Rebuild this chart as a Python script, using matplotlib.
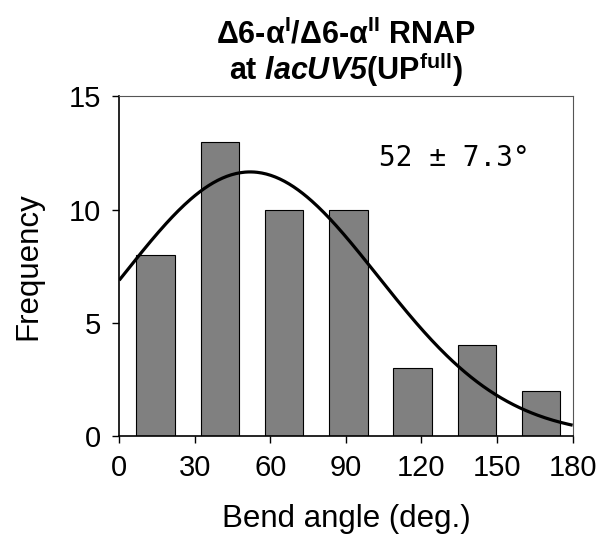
import numpy as np
import matplotlib
matplotlib.use('Agg')
import matplotlib.pyplot as plt

plt.rcParams['font.family'] = ['Liberation Sans', 'DejaVu Sans']
plt.rcParams['mathtext.fontset'] = 'custom'
plt.rcParams['mathtext.rm'] = 'Liberation Sans:bold'
plt.rcParams['mathtext.it'] = 'Liberation Sans:bold:italic'
plt.rcParams['mathtext.sf'] = 'Liberation Sans:bold:italic'
plt.rcParams['mathtext.bf'] = 'Liberation Sans:bold'

# histogram of bend angles (Excel style bars)
bar_pos = [14.5, 40, 65.5, 91, 116.5, 142, 167.5]
counts = [8, 13, 10, 10, 3, 4, 2]
bar_w = 15.3

# gaussian fit
fit_mean = 52
fit_sd = 50.6
fit_peak = 11.66

x_ticks = [0, 30, 60, 90, 120, 150, 180]
y_ticks = [0, 5, 10, 15]

fig = plt.figure(figsize=(6.02, 5.48), dpi=100)
ax = fig.add_axes([0.198, 0.2044, 0.7532, 0.6199])

ax.bar(bar_pos, counts, width=bar_w, color='#808080', edgecolor='black', linewidth=0.8, zorder=2)

xx = np.linspace(0, 180, 300)
yy = fit_peak * np.exp(-(xx - fit_mean) ** 2 / (2 * fit_sd ** 2))
ax.plot(xx, yy, color='black', lw=2.3, zorder=3, solid_capstyle='butt')

ax.set_xlim(0, 180)
ax.set_ylim(0, 15)
ax.set_xticks(x_ticks)
ax.set_yticks(y_ticks)
ax.tick_params(direction='out', length=5, width=1, labelsize=21, pad=8)

for s in ['left', 'bottom']:
    ax.spines[s].set_linewidth(1.2)
    ax.spines[s].set_color('black')
for s in ['top', 'right']:
    ax.spines[s].set_linewidth(0.8)
    ax.spines[s].set_color('#555555')

ax.set_xlabel('Bend angle (deg.)', fontsize=22.5, labelpad=16)
ax.set_ylabel('Frequency', fontsize=22.5, labelpad=18)

ax.set_title('Δ6-α$^{\\mathregular{I}}$/Δ6-α$^{\\mathregular{II}}$ RNAP\n'
             'at $\\mathsf{lacUV5}$(UP$^{\\mathregular{full}}$)',
             fontsize=22, fontweight='bold', pad=12, linespacing=0.98)

ax.text(133, 12.27, '52 ± 7.3°', fontsize=20, family='DejaVu Sans Mono',
        ha='center', va='center')

fig.savefig('out.png', dpi=100)
